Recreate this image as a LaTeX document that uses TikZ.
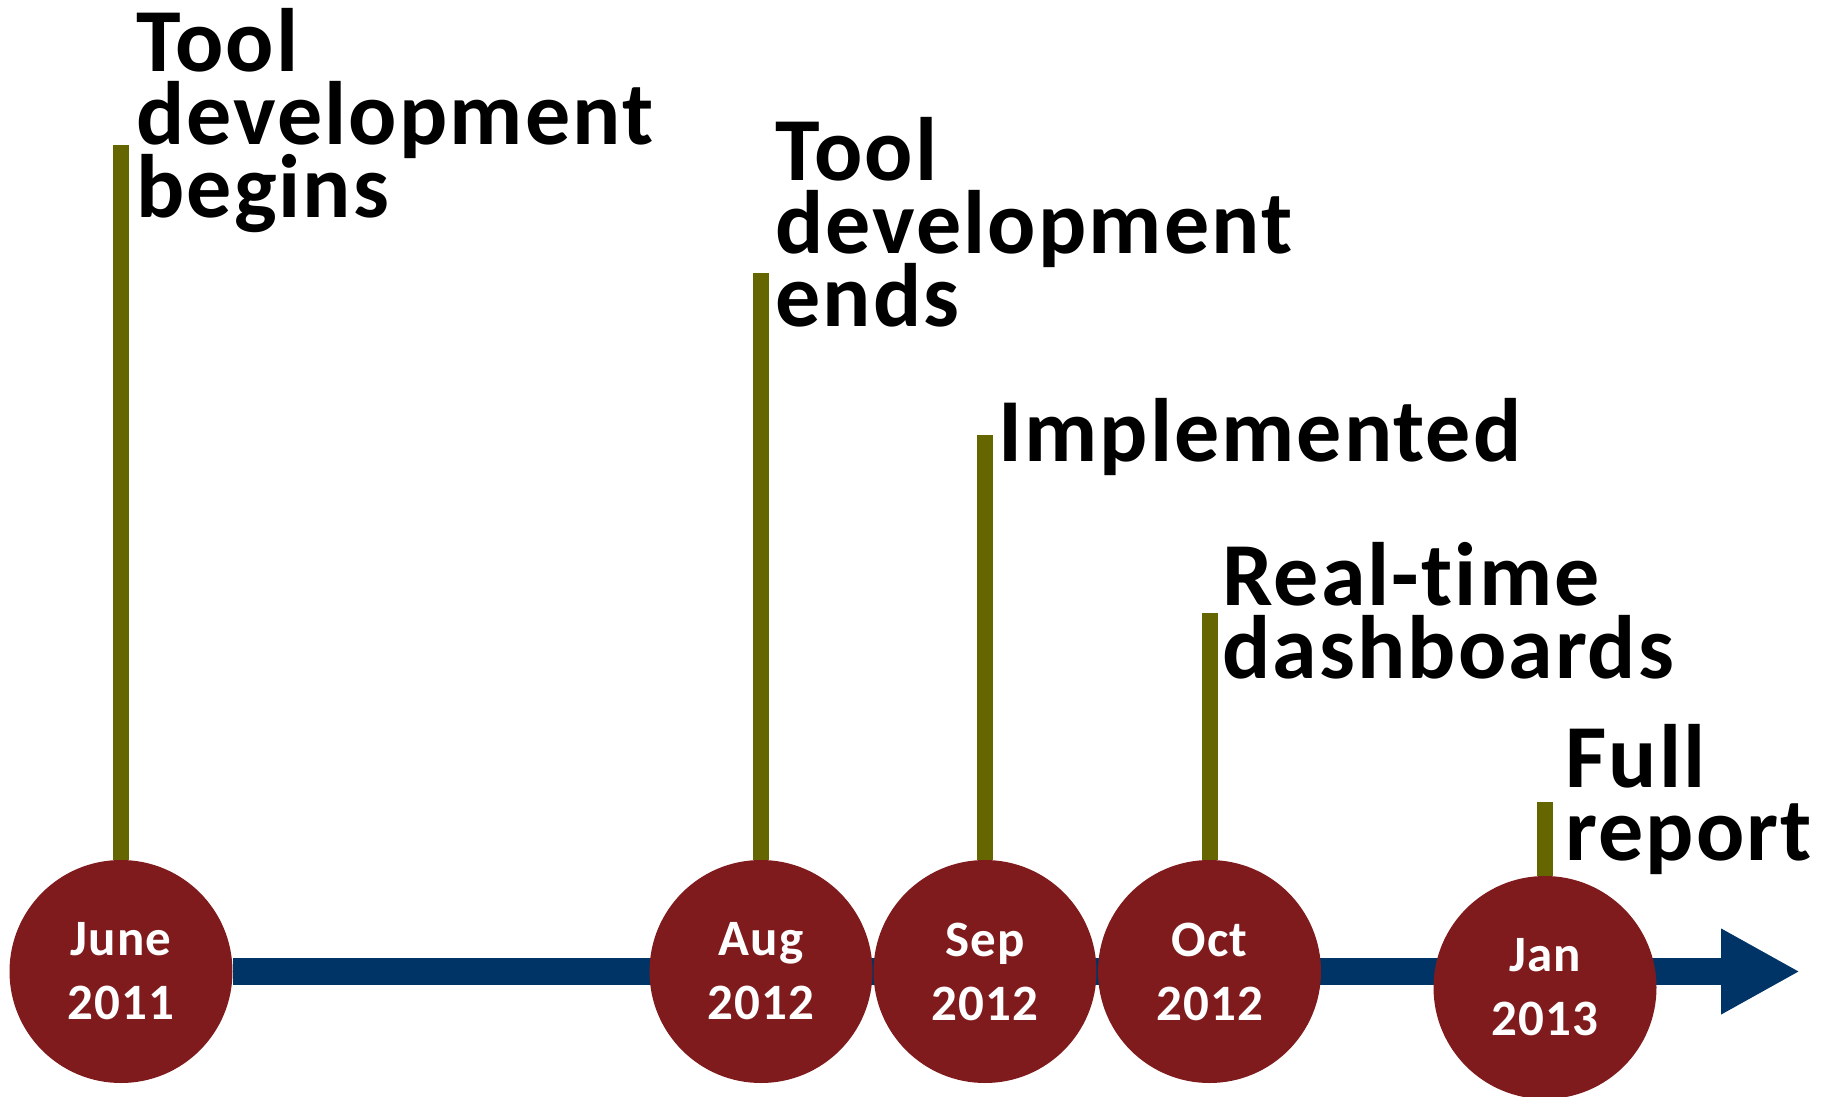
\documentclass[tikz,border=0pt]{standalone}
\usepackage{fontspec}
\setmainfont{Carlito}[Ligatures=NoCommon, LetterSpace=2.3]
\usetikzlibrary{arrows.meta,backgrounds,positioning}
\definecolor{datered}{RGB}{128,27,29}
\definecolor{stemgreen}{RGB}{102,102,0}
\definecolor{axisblue}{RGB}{0,51,102}
\setlength{\lineskiplimit}{-100pt}
\tikzset{
  circDate/.style={ circle, fill=datered, text=white, minimum size=111.5pt, inner sep=0pt, align=center, font=\bfseries\fontsize{25.5}{32}\selectfont }
}
\tikzset{
  stem/.style={ draw=stemgreen, line width=8pt }
}
\tikzset{
  axis/.style={ draw=axisblue, line width=13.5pt, -{Triangle[length=39.5pt, width=40pt]} }
}
\tikzset{
  lbl/.style={ anchor=north west, inner sep=0pt, align=left, font=\bfseries\fontsize{45}{36.5}\selectfont }
}

\begin{document}
\begin{tikzpicture}[x=0.5pt, y=-0.5pt]
        \useasboundingbox (0,0) rectangle (1821,1097);
        \node[circDate] (jun) at (121, 971.5) {June\\2011};
        \node[circDate] (aug) at (761, 971.5) {Aug\\2012};
        \node[circDate] (sep) at (985, 971.5) {Sep\\2012};
        \node[circDate] (oct) at (1209.5, 971.5) {Oct\\2012};
        \node[circDate] (jan) at (1545, 987.5) {Jan\\2013};
        \coordinate (tip) at (1800, 971.5);
        \coordinate (junTop) at (121, 145);
        \coordinate (augTop) at (761, 273);
        \coordinate (sepTop) at (985, 435);
        \coordinate (octTop) at (1209.5, 613);
        \coordinate (janTop) at (1545, 802);
        \node[lbl] (junText) at (136, 8) {Tool\\development\\begins};
        \node[lbl] (augText) at (775, 117) {Tool\\development\\ends};
        \node[lbl] (sepText) at (998, 398) {Implemented};
        \node[lbl] (octText) at (1222, 542) {Real-time\\dashboards};
        \node[lbl] (janText) at (1565, 724) {Full\\report};
        \begin{scope}[on background layer]
          \draw[axis] (jun) -- (tip);
          \draw[stem] (junTop) -- (jun);
          \draw[stem] (augTop) -- (aug);
          \draw[stem] (sepTop) -- (sep);
          \draw[stem] (octTop) -- (oct);
          \draw[stem] (janTop) -- (jan);
        \end{scope}
      \end{tikzpicture}
\end{document}
